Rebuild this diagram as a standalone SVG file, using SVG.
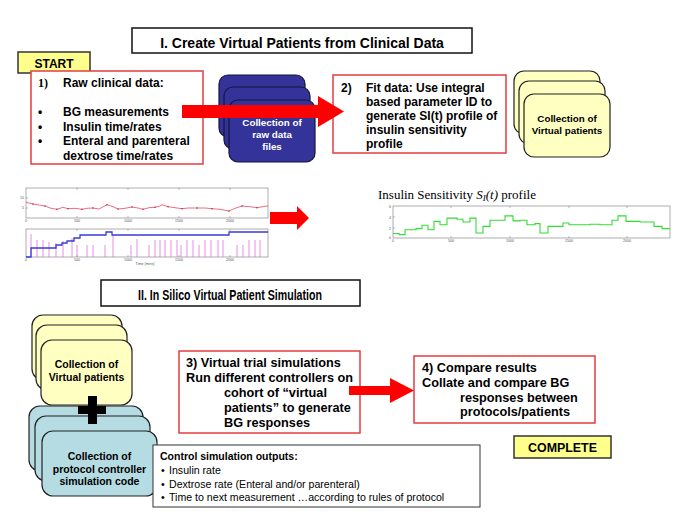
<svg xmlns="http://www.w3.org/2000/svg" width="685" height="528" viewBox="0 0 685 528">
<defs>
<style>
.b{font-family:"Liberation Sans",Arial,Helvetica,sans-serif;font-weight:bold;fill:#000}
.r{font-family:"Liberation Sans",Arial,Helvetica,sans-serif;fill:#000}
.w{font-family:"Liberation Sans",Arial,Helvetica,sans-serif;font-weight:bold;fill:#fff}
.tiny{font-family:"Liberation Sans",Arial,sans-serif;font-size:3.6px;fill:#555}
.redbox{fill:#fff;stroke:#e43d40;stroke-width:1.5}
.title{fill:#fff;stroke:#111;stroke-width:1.5}
.navy{fill:#333399;stroke:#15153a;stroke-width:1.2}
.yel{fill:#ffffc2;stroke:#222;stroke-width:1.2}
.teal{fill:#b5dce2;stroke:#222;stroke-width:1.2}
.tag{fill:#ffff8c;stroke:#333;stroke-width:1.5}
.arrow{fill:#ff0000}
.axes{fill:#fff;stroke:#777;stroke-width:0.6}
.tick{stroke:#777;stroke-width:0.5}
</style>
</defs>
<rect width="685" height="528" fill="#fff"/>

<g id="title1">
<rect class="title" x="132" y="28" width="340" height="25"/>
<text class="b" x="302" y="47.5" font-size="14" text-anchor="middle">I. Create Virtual Patients from Clinical Data</text>
</g>

<g id="start">
<rect class="tag" x="18" y="52" width="72" height="21"/>
<text class="b" x="54" y="67.5" font-size="12" text-anchor="middle">START</text>
</g>

<g id="step1">
<rect class="redbox" x="31" y="71" width="172" height="93"/>
<text x="38" y="86.5" font-size="12" font-family="'Liberation Serif','Times New Roman',serif" font-weight="bold">1)</text>
<text class="b" x="63" y="86.5" font-size="12">Raw clinical data:</text>
<text class="b" x="38" y="115.5" font-size="12">•</text>
<text class="b" x="63" y="115.5" font-size="12">BG measurements</text>
<text class="b" x="38" y="130.5" font-size="12">•</text>
<text class="b" x="63" y="130.5" font-size="12">Insulin time/rates</text>
<text class="b" x="38" y="144.5" font-size="12">•</text>
<text class="b" x="63" y="144.5" font-size="12">Enteral and parenteral</text>
<text class="b" x="63" y="159.5" font-size="12">dextrose time/rates</text>
</g>

<g id="rawfiles">
<rect class="navy" x="219" y="75" width="86" height="62" rx="9"/>
<rect class="navy" x="224" y="87" width="86" height="62" rx="9"/>
<rect class="navy" x="229" y="100" width="86" height="62" rx="9"/>
<text class="w" x="272" y="125.5" font-size="9.8" text-anchor="middle">Collection of</text>
<text class="w" x="272" y="138" font-size="9.8" text-anchor="middle">raw data</text>
<text class="w" x="272" y="150" font-size="9.8" text-anchor="middle">files</text>
</g>

<g id="step2">
<rect class="redbox" x="333" y="75" width="173" height="78"/>
<text class="b" x="341" y="91.5" font-size="12">2)</text>
<text class="b" x="366" y="91.5" font-size="12">Fit data: Use integral</text>
<text class="b" x="366" y="105.5" font-size="12">based parameter ID to</text>
<text class="b" x="366" y="119.5" font-size="12">generate SI(t) profile of</text>
<text class="b" x="366" y="133.5" font-size="12">insulin sensitivity</text>
<text class="b" x="366" y="147.5" font-size="12">profile</text>
</g>

<g id="virtualpatients1">
<rect class="yel" x="514" y="71" width="86" height="63" rx="10"/>
<rect class="yel" x="519" y="81" width="86" height="63" rx="10"/>
<rect class="yel" x="524" y="94" width="86" height="63" rx="10"/>
<text class="b" x="567" y="121.5" font-size="9.8" text-anchor="middle">Collection of</text>
<text class="b" x="567" y="133.5" font-size="9.8" text-anchor="middle">Virtual patients</text>
</g>

<g id="clinicalplot">
<rect class="axes" x="26" y="188" width="242" height="30"/>
<rect class="axes" x="26" y="229" width="242" height="28"/>
<g class="tick">
<path d="M77,218v-2M128,218v-2M179,218v-2M230,218v-2M77,188v2M128,188v2M179,188v2M230,188v2M26,198h2M26,208h2"/>
<path d="M77,257v-2M128,257v-2M179,257v-2M230,257v-2M77,229v2M128,229v2M179,229v2M230,229v2"/>
</g>
<text class="tiny" x="26" y="221.8" text-anchor="middle">0</text>
<text class="tiny" x="77" y="221.8" text-anchor="middle">500</text>
<text class="tiny" x="128" y="221.8" text-anchor="middle">1000</text>
<text class="tiny" x="179" y="221.8" text-anchor="middle">1500</text>
<text class="tiny" x="230" y="221.8" text-anchor="middle">2000</text>
<text class="tiny" x="24" y="199.2" text-anchor="end">10</text>
<text class="tiny" x="24" y="209.2" text-anchor="end">5</text>
<text class="tiny" x="26" y="260.8" text-anchor="middle">0</text>
<text class="tiny" x="77" y="260.8" text-anchor="middle">500</text>
<text class="tiny" x="128" y="260.8" text-anchor="middle">1000</text>
<text class="tiny" x="179" y="260.8" text-anchor="middle">1500</text>
<text class="tiny" x="230" y="260.8" text-anchor="middle">2000</text>
<text class="tiny" x="145" y="264.5" text-anchor="middle">Time (mins)</text>
<polyline fill="none" stroke="#e0304a" stroke-width="0.7" points="26,202.3 33,204 39,205 45,206 51,208.3 57,209.3 63,207.3 68,208.7 75,208.3 82,209.3 87,208.3 93,208 99,209 107,204.7 113,206.7 118,209 125,208.3 132,207 138,208 143,209.3 149,207.7 155,207.3 160,206 162,204.7 168,206.7 177,208 182,208.7 188,208 197,208 205,208 212,208.7 220,209.3 229,211 235,208.3 242,206 250,206.7 257,207.7 265,206.3 268,206"/>
<g fill="#a02030">
<circle cx="33" cy="204" r="0.7"/><circle cx="45" cy="206" r="0.7"/><circle cx="57" cy="209.3" r="0.7"/><circle cx="68" cy="208.7" r="0.7"/><circle cx="82" cy="209.3" r="0.7"/><circle cx="93" cy="208" r="0.7"/><circle cx="107" cy="204.7" r="0.7"/><circle cx="118" cy="209" r="0.7"/><circle cx="132" cy="207" r="0.7"/><circle cx="143" cy="209.3" r="0.7"/><circle cx="155" cy="207.3" r="0.7"/><circle cx="168" cy="206.7" r="0.7"/><circle cx="182" cy="208.7" r="0.7"/><circle cx="197" cy="208" r="0.7"/><circle cx="212" cy="208.7" r="0.7"/><circle cx="229" cy="211" r="0.7"/><circle cx="242" cy="206" r="0.7"/><circle cx="257" cy="207.7" r="0.7"/>
</g>
<path fill="none" stroke="#e070e0" stroke-width="0.8" d="M31,257V234M37,257V240M43,257V240M49,257V242M56,257V243M63,257V241M72,257V238M77,257V245M87,257V245M93,257V245M105,257V245M113,257V235M131,257V245M137,257V239M149,257V245M155,257V240M160,257V240M165,257V240M171,257V240M177,257V240M181,257V245M187,257V240M193,257V240M199,257V245M205,257V240M211,257V240M218,257V240M223,257V240M237,257V245M243,257V245M249,257V240M255,257V240M260,257V240"/>
<path fill="none" stroke="#3a3ad8" stroke-width="1.3" d="M26,257H31V248H56V245H62V243H67V241H74V238H80V235H106V232H112V235H229V232H268"/>
</g>

<g id="siplot">
<text x="378" y="199" font-size="13" font-family="'Liberation Serif','Times New Roman',serif">Insulin Sensitivity <tspan font-style="italic">S</tspan><tspan font-style="italic" font-size="9" dy="2">I</tspan><tspan font-style="italic" dy="-2">(t)</tspan> profile</text>
<rect class="axes" x="393" y="206" width="277" height="32"/>
<path class="tick" d="M451,238v-2M510,238v-2M569,238v-2M627,238v-2M451,206v2M510,206v2M569,206v2M627,206v2M393,217h2M393,228h2"/>
<text class="tiny" x="393" y="242" text-anchor="middle">0</text>
<text class="tiny" x="451" y="242" text-anchor="middle">500</text>
<text class="tiny" x="510" y="242" text-anchor="middle">1000</text>
<text class="tiny" x="569" y="242" text-anchor="middle">1500</text>
<text class="tiny" x="627" y="242" text-anchor="middle">2000</text>
<text class="tiny" x="391" y="207.5" text-anchor="end">6</text>
<text class="tiny" x="391" y="218.5" text-anchor="end">4</text>
<text class="tiny" x="391" y="229.5" text-anchor="end">2</text>
<text class="tiny" x="391" y="239" text-anchor="end">0</text>
<path fill="none" stroke="#33dd33" stroke-width="1.1" d="M393,233.5H399V234.6H405V229.7H416V228.6H422V225.3H428V229.7H434V221.4H440V224.7H447V218.1H457V219.2H463V222H470V218.1H476V233H483V226.4H490V220.3H505V215.9H513V220.9H520V220.3H527V224.7H535V223.6H540V233H548V226.4H563V223H569V224.7H590V224.2H600V224.7H612V220.3H618V215.9H626V221.4H640V222H654V226.4H662V228.6H670"/>
</g>

<g id="title2">
<rect class="title" x="101" y="280" width="259" height="26"/>
<text class="b" x="138" y="299.5" font-size="14" textLength="184" lengthAdjust="spacingAndGlyphs">II. In Silico Virtual Patient Simulation</text>
</g>

<g id="virtualpatients2">
<rect class="yel" x="32" y="315" width="90" height="65" rx="11"/>
<rect class="yel" x="36" y="325" width="91" height="65" rx="11"/>
<rect class="yel" x="41" y="340" width="91" height="65" rx="11"/>
<text class="b" x="86.5" y="368" font-size="10.5" text-anchor="middle">Collection of</text>
<text class="b" x="86.5" y="381" font-size="10.5" text-anchor="middle">Virtual patients</text>
</g>

<g id="protocolcode">
<rect class="teal" x="29" y="406" width="114" height="65" rx="11"/>
<rect class="teal" x="35" y="416" width="115" height="65" rx="11"/>
<rect class="teal" x="42" y="431" width="115" height="65" rx="11"/>
<text class="b" x="99.5" y="460" font-size="10.5" text-anchor="middle">Collection of</text>
<text class="b" x="99.5" y="472.5" font-size="10.5" text-anchor="middle">protocol controller</text>
<text class="b" x="99.5" y="485" font-size="10.5" text-anchor="middle">simulation code</text>
</g>

<g id="plus">
<rect x="88" y="396" width="9" height="28" fill="#000"/>
<rect x="78" y="406" width="28" height="8" fill="#000"/>
</g>

<g id="outputs">
<rect x="153" y="445" width="327" height="62" fill="#fff" stroke="#333" stroke-width="1"/>
<text class="b" x="160" y="460" font-size="10.5">Control simulation outputs:</text>
<text class="r" x="161" y="473.5" font-size="10.6">•</text>
<text class="r" x="169" y="473.5" font-size="10.6">Insulin rate</text>
<text class="r" x="161" y="487.5" font-size="10.6">•</text>
<text class="r" x="169" y="487.5" font-size="10.6">Dextrose rate (Enteral and/or parenteral)</text>
<text class="r" x="161" y="501" font-size="10.6">•</text>
<text class="r" x="169" y="501" font-size="10.6">Time to next measurement …according to rules of protocol</text>
</g>

<g id="step3">
<rect class="redbox" x="179" y="351" width="181" height="82"/>
<text class="b" x="186" y="366.5" font-size="12.7">3) Virtual trial simulations</text>
<text class="b" x="186" y="381.5" font-size="12.7">Run different controllers on</text>
<text class="b" x="224" y="396.5" font-size="12.7">cohort of “virtual</text>
<text class="b" x="224" y="411.5" font-size="12.7">patients” to generate</text>
<text class="b" x="224" y="426.5" font-size="12.7">BG responses</text>
</g>

<g id="step4">
<rect class="redbox" x="414" y="356" width="181" height="67"/>
<text class="b" x="422" y="371.5" font-size="12.7">4) Compare results</text>
<text class="b" x="422" y="386.5" font-size="12.7">Collate and compare BG</text>
<text class="b" x="460" y="401.5" font-size="12.7">responses between</text>
<text class="b" x="460" y="416" font-size="12.7">protocols/patients</text>
</g>

<g id="complete">
<rect class="tag" x="514" y="436" width="97" height="22"/>
<text class="b" x="562.5" y="452" font-size="12.4" text-anchor="middle">COMPLETE</text>
</g>

<g id="connectors">
<polygon class="arrow" points="182,105 318,105 318,96 344,111.5 318,127 318,118 182,118"/>
<polygon class="arrow" points="270,212 297,212 297,206 309,218 297,230 297,224 270,224"/>
<polygon class="arrow" points="349,386 390,386 390,378 414,390.5 390,403 390,395 349,395"/>
</g>
</svg>
